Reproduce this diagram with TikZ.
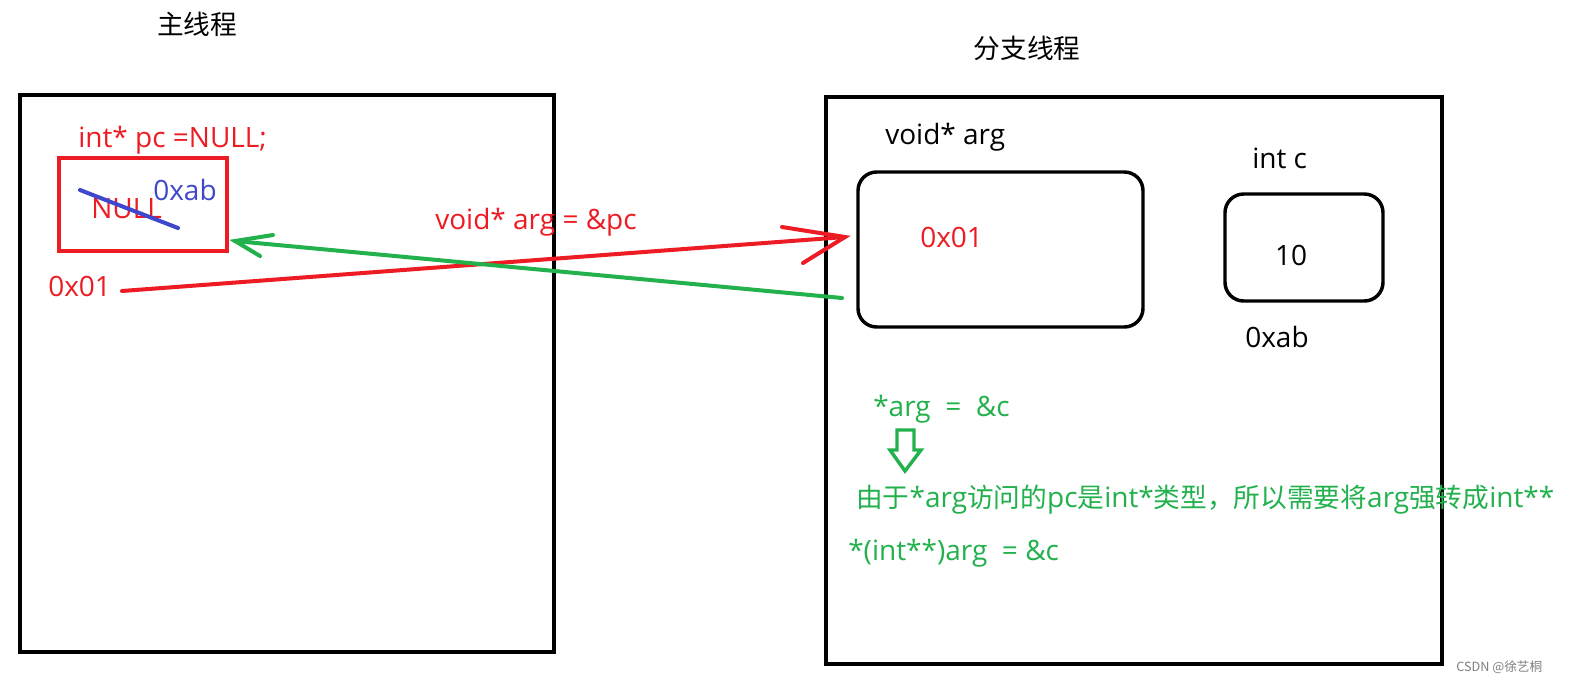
\documentclass[tikz,border=0pt]{standalone}
\usepackage{fontspec}
\setmainfont{Open Sans}
\newfontfamily\cjk{Noto Sans CJK SC}
\newcommand{\zh}[1]{{\cjk\fontsize{20}{24}\selectfont #1}}
\definecolor{pred}{HTML}{ED1C24}
\definecolor{pgreen}{HTML}{22B14C}
\definecolor{pblue}{HTML}{3F48CC}
\begin{document}
\begin{tikzpicture}[x=0.75pt,y=-0.75pt,
  txt/.style={inner sep=0pt,anchor=west,font=\fontsize{21}{24}\selectfont},
  frame/.style={draw=black,line width=3pt},
  rbox/.style={draw=black,line width=2.6pt,rounded corners=14pt},
  conn/.style={line width=3pt,line cap=round}]
\useasboundingbox (0,0) rectangle (1572,686);
\fill[white] (0,0) rectangle (1572,686);
% titles
\node[txt,anchor=center] (t1) at (197,24) {\zh{主线程}};
\node[txt,anchor=center] (t2) at (1027,48) {\zh{分支线程}};
% frames
\draw[frame] (20,95) rectangle (554,652);
\draw[frame] (826,97) rectangle (1442,664);
% left contents
\node[txt,text=pred] (decl) at (78,140) {int* pc =NULL;};
\draw[draw=pred,line width=3pt] (59,158) rectangle (227,251);
\coordinate (pcR) at (235,241);
\node[txt,text=pred] (null) at (91,209) {NULL};
\node[txt,text=pblue] (oxab1) at (153,190) {0xab};
\coordinate (s1) at (80,190);
\coordinate (s2) at (178,228);
\draw[pblue,conn] (s1) -- (s2);
\node[txt,text=pred] (ox01a) at (48,286) {0x01};
\node[txt,text=pred] (lab) at (435,222) {void* arg = \&pc};
% right contents
\node[txt] (va) at (885,137) {void* arg};
\draw[rbox] (858,172) rectangle (1143,327);
\node[txt,text=pred] (ox01b) at (920,237) {0x01};
\node[txt] (ic) at (1252,158) {int c};
\draw[rbox] (1225,194) rectangle (1383,301);
\node[txt,anchor=center] (ten) at (1291,255) {10};
\node[txt] (oxab2) at (1245,337) {0xab};
\node[txt,text=pgreen] (sa) at (873,409) {*arg\ \ =\ \ \&c};
\draw[pgreen,line width=2.6pt] (897,430) -- (914,430) -- (914,450) -- (921,450) -- (905,471) -- (890,450) -- (897,450) -- cycle;
\node[txt,text=pgreen] (why) at (856,500) {\zh{由于}*arg\zh{访问的}pc\zh{是}int*\zh{类型，所以需要将}arg\zh{强转成}int**};
\node[txt,text=pgreen] (cast) at (848,553) {*(int**)arg\ \ =\ \&c};
\node[inner sep=0pt,anchor=west,text=gray,font=\cjk\fontsize{9.5}{11}\selectfont] (wm) at (1456,667) {CSDN @徐艺桐};
% red arrow
\coordinate (rs) at (122,291);
\coordinate (re) at (845,237);
\coordinate (rb1) at (782,227);
\coordinate (rb2) at (803,263);
\draw[pred,conn] (rs) -- (re);
\draw[pred,conn] (rb1) -- (re) -- (rb2);
% green arrow
\coordinate (gs) at (842,298);
\coordinate (gb1) at (273,235);
\coordinate (gb2) at (260,256);
\draw[pgreen,conn] (gs) -- (pcR);
\draw[pgreen,conn] (gb1) -- (pcR) -- (gb2);
\end{tikzpicture}
\end{document}
